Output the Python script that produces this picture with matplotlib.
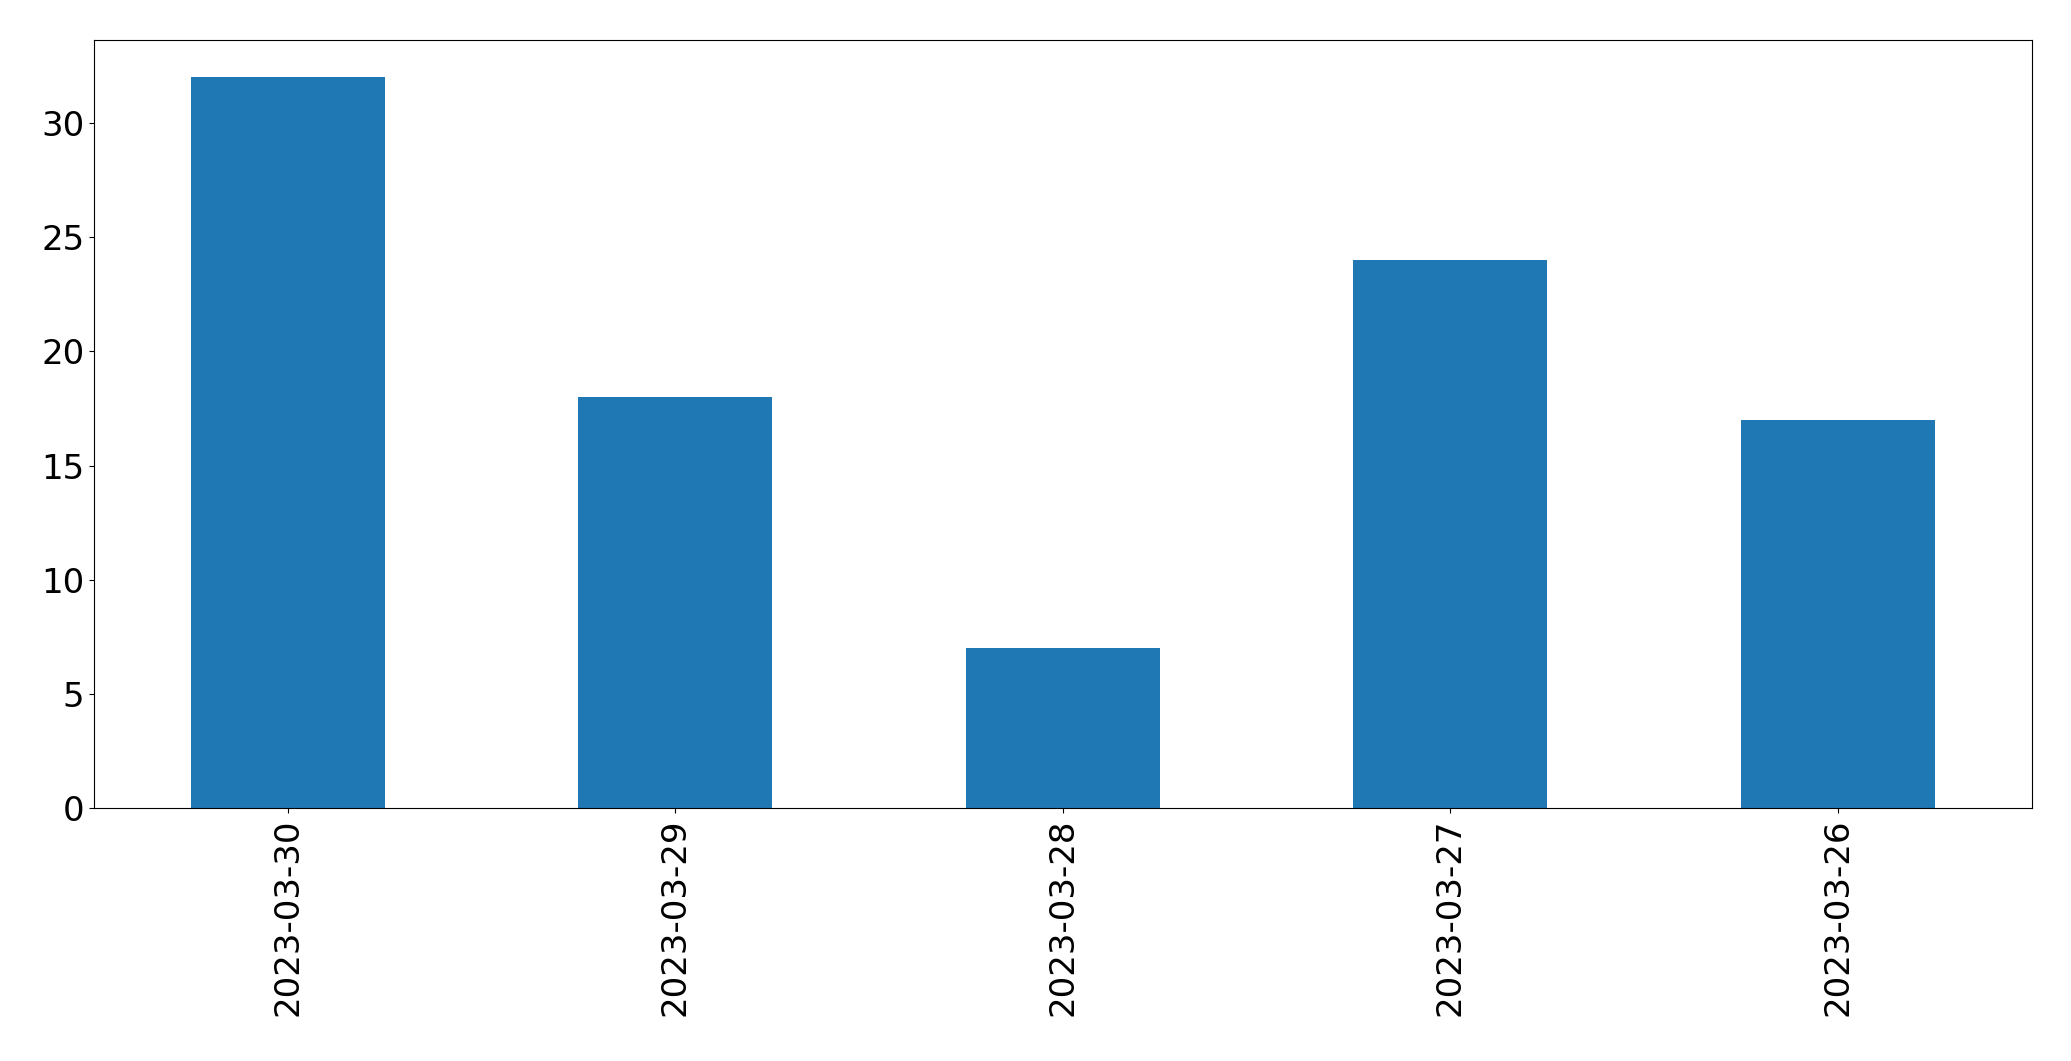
import matplotlib
matplotlib.use("Agg")
import matplotlib.pyplot as plt

# daily counts, newest first
dates = ["2023-03-30", "2023-03-29", "2023-03-28", "2023-03-27", "2023-03-26"]
counts = [32, 18, 7, 24, 17]

fig = plt.figure(figsize=(20.71, 10.61), dpi=100)
ax = fig.add_axes([0.0454, 0.238, 0.9356, 0.724])

x = range(len(dates))
ax.bar(x, counts, width=0.5, color="#1f77b4")
ax.set_xlim(-0.5, len(dates) - 0.5)
ax.set_ylim(0, max(counts) * 1.05)
ax.set_xticks(list(x))
ax.set_xticklabels(dates, rotation=90)
ax.tick_params(labelsize=24.5)

fig.savefig("out.png", dpi=100)
